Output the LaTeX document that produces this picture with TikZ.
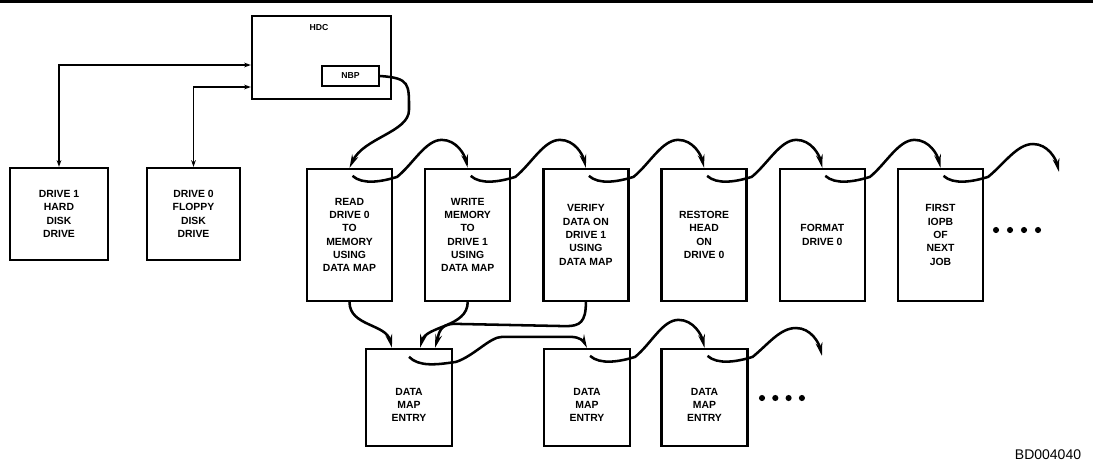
\documentclass[tikz,border=0pt]{standalone}
\usepackage{fontspec}
\setmainfont{Liberation Sans}
\usetikzlibrary{calc,arrows.meta}
\tikzset{
  x=0.75pt,y=-0.75pt,
  iopbbox/.style={draw,line width=1.7pt,minimum width=63.75pt,minimum height=99pt,inner sep=0pt,align=center,font=\bfseries\fontsize{7.8}{10}\selectfont},
  drivebox/.style={draw,line width=1.7pt,minimum height=69pt,inner sep=0pt,align=center,font=\bfseries\fontsize{7.8}{10}\selectfont},
  mapbox/.style={draw,line width=1.7pt,minimum width=64.5pt,minimum height=72.75pt,inner sep=0pt,
    label={[align=center,yshift=-5.6pt,font=\bfseries\fontsize{7.8}{10}\selectfont]center:{DATA\\MAP\\ENTRY}}},
  tagtext/.style={font=\bfseries\fontsize{6.5}{8}\selectfont,inner sep=0pt},
  link/.style={line width=1.9pt,-{Stealth[length=10pt,width=5pt]}},
  drivelink/.style={line width=1.1pt,{Stealth[length=5pt,width=3.5pt]}-{Stealth[length=5pt,width=3.5pt]}}
}
\begin{document}
\begin{tikzpicture}
\useasboundingbox (0,0) rectangle (1093,469);
\draw[line width=1.6pt] (0,1.5) -- (1093,1.5);

% controller and drives
\node[draw,line width=1.7pt,minimum width=104.25pt,minimum height=62.25pt] (hdc) at (321.5,57.5) {};
\node[tagtext] (hdctext) at (319,28) {HDC};
\node[draw,line width=1.5pt,minimum width=42.75pt,minimum height=15pt,tagtext] (nbp) at (350.5,76) {NBP};
\node[drivebox,minimum width=73.5pt] (d1) at (59,214) {DRIVE 1\\HARD\\DISK\\DRIVE};
\node[drivebox,minimum width=70pt] (d0) at (193.5,214) {DRIVE 0\\FLOPPY\\DISK\\DRIVE};
\draw[drivelink] ($(hdc.west)+(0,7.5)$) -| (d1.north);
\draw[drivelink] ($(hdc.west)+(0,29.5)$) -| (d0.north);

% IOPB chain
\foreach \i/\txt in {0/{READ\\DRIVE 0\\TO\\MEMORY\\USING\\DATA MAP},
                     1/{WRITE\\MEMORY\\TO\\DRIVE 1\\USING\\DATA MAP},
                     2/{VERIFY\\DATA ON\\DRIVE 1\\USING\\DATA MAP},
                     3/{RESTORE\\HEAD\\ON\\DRIVE 0},
                     4/{FORMAT\\DRIVE 0},
                     5/{FIRST\\IOPB\\OF\\NEXT\\JOB}}
  \node[iopbbox] (b\i) at (349.5+118.2*\i,235) {\txt};

% data map entries
\node[mapbox] (m0) at (409,397.5) {};
\node[mapbox] (m1) at (587,397.5) {};
\node[mapbox] (m2) at (704.5,397.5) {};

\coordinate (toptail) at (1059,172);
\coordinate (bottail) at (822,356);

\draw[link] (nbp.east) .. controls +(30,2) and +(0,-26) .. ($(nbp.east)+(29,34)$)
  .. controls +(0,22) and +(14,-30) .. (b0.north);

\foreach \s/\t in {b0/b1.north,b1/b2.north,b2/b3.north,b3/b4.north,b4/b5.north,b5/toptail,m1/m2.north,m2/bottail}
  \draw[link] ($(\s.north)+(3,8)$) .. controls +(10,9) and +(-16,5) .. ($(\s.north east)+(4,9)$)
    .. controls +(16,-13) and +(-16,0) .. ($(\t)+(-26,-28)$)
    .. controls +(15,0) and +(-3,-13) .. (\t);

\draw[link] ($(m0.north)+(0,9)$) .. controls +(10,10) and +(-20,3) .. ($(m0.north east)+(3,14)$)
  .. controls +(18,-6) and +(-12,0) .. ($(m1.north)+(-85,-11)$) -- ($(m1.north)+(-16,-11)$)
  .. controls +(9,0) and +(-3,-6) .. (m1.north);

% pointers to the data map
\draw[link] (b0.south) .. controls +(0,24) and +(-6,-24) .. ($(m0.north)+(-17,0)$);
\draw[link] (b1.south) .. controls +(0,25) and +(6,-22) .. ($(m0.north)+(11,0)$);
\draw[link] (b2.south) .. controls +(0,20) and +(14,0) .. ($(b2.south)+(-20,24)$)
  -- ($(m0.north)+(46,-24)$) .. controls +(-16,0) and +(4,-14) .. ($(m0.north)+(26,0)$);

\foreach \k in {0,...,3} {
  \fill (996+14*\k,230) circle[radius=2.3pt];
  \fill (762+13.3*\k,398) circle[radius=2.3pt];
}

\node[font=\fontsize{10.5}{12}\selectfont,inner sep=0pt] (figid) at (1048,455) {BD004040};
\end{tikzpicture}
\end{document}
